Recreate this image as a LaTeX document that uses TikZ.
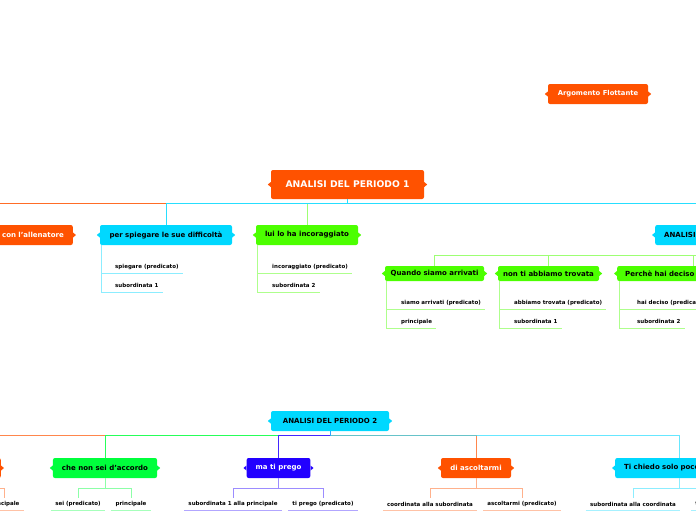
\documentclass[tikz,border=0pt]{standalone}
\usepackage{fontspec}
\setmainfont{DejaVu Sans}
\usetikzlibrary{positioning}
\definecolor{mmArancio}{HTML}{FF5200}
\definecolor{mmCiano}{HTML}{00D8FF}
\definecolor{mmLime}{HTML}{4CFF00}
\definecolor{mmVerde}{HTML}{00FF3C}
\definecolor{mmBlu}{HTML}{2200FF}

\begin{document}
\begin{tikzpicture}[
        x=1pt, y=-1pt,
        nodo/.style={rectangle, rounded corners=2pt, inner xsep=9pt, inner ysep=0pt, minimum height=20pt, font=\bfseries\fontsize{7}{8.5}\selectfont},
        nodoArancio/.style={nodo, fill=mmArancio, text=white},
        nodoCiano/.style={nodo, fill=mmCiano, text=black},
        nodoLime/.style={nodo, fill=mmLime, text=black},
        nodoVerde/.style={nodo, fill=mmVerde, text=black},
        nodoBlu/.style={nodo, fill=mmBlu, text=white},
        nodoPiccolo/.style={nodoLime, inner xsep=5pt, minimum height=15pt},
        foglia/.style={inner xsep=4pt, inner ysep=0pt, minimum height=12pt, font=\bfseries\fontsize{5.5}{6.5}\selectfont},
        fogliaSx/.style={foglia, anchor=south west},
        linea/.style={line width=0.9pt},
        lineaArancio/.style={linea, draw=mmArancio!85},
        lineaCiano/.style={linea, draw=mmCiano!85},
        lineaLime/.style={linea, draw=mmLime!55},
        lineaVerde/.style={linea, draw=mmVerde!85},
        lineaBlu/.style={linea, draw=mmBlu!85},
        ramo/.style={line width=0.8pt}
    ]
        % Sfondo
        \fill[white] (0,0) rectangle (696,520);
        \useasboundingbox (0,0) rectangle (696,520);

        % Periodo 1
        \node[nodoArancio, minimum width=153pt, minimum height=29pt, font=\bfseries\fontsize{9.2}{11}\selectfont] (radice1) at (347.5,184.5) {ANALISI DEL PERIODO 1};
        \node[nodoArancio, minimum width=100pt, font=\bfseries\fontsize{6.8}{8}\selectfont] (flottante) at (598,94) {Argomento Flottante};

        \node[nodoArancio, anchor=east, text width=150pt, align=right] (allenatore) at (73,235) {con l'allenatore};
        \node[nodoCiano, minimum width=132pt] (spiegare) at (166,235) {per spiegare le sue difficoltà};
        \node[nodoLime, minimum width=102pt] (incoraggiato) at (307,235) {lui lo ha incoraggiato};
        \node[nodoCiano, anchor=west, text width=100pt, align=left] (analisiA) at (655,235) {ANALISI};

        \node[nodoPiccolo, minimum width=99pt] (arrivati) at (434.5,273.5) {Quando siamo arrivati};
        \node[nodoPiccolo, minimum width=101pt] (trovata) at (548.5,273.5) {non ti abbiamo trovata};
        \node[nodoPiccolo, anchor=west, inner xsep=8pt, text width=136pt, align=left] (deciso) at (617,273.5) {Perchè hai deciso di};

        % foglie periodo 1
        \node[fogliaSx] (spiegarePred) at (111,273) {spiegare (predicato)};
        \node[fogliaSx] (spiegareSub) at (111,292) {subordinata 1};
        \node[fogliaSx] (incoraggiatoPred) at (268,273) {incoraggiato (predicato)};
        \node[fogliaSx] (incoraggiatoSub) at (268,292) {subordinata 2};
        \node[fogliaSx] (arrivatiPred) at (397,309) {siamo arrivati (predicato)};
        \node[fogliaSx] (arrivatiSub) at (397,328) {principale};
        \node[fogliaSx] (trovataPred) at (510,309) {abbiamo trovata (predicato)};
        \node[fogliaSx] (trovataSub) at (510,328) {subordinata 1};
        \node[fogliaSx] (decisoPred) at (633,309) {hai deciso (predicato)};
        \node[fogliaSx] (decisoSub) at (633,328) {subordinata 2};

        \draw[lineaArancio] (radice1.south) -- ++(0,4) -| (allenatore.north);
        \draw[lineaLime] (radice1.south) -- ++(0,4) -| (incoraggiato.north);
        \draw[lineaCiano] (radice1.south) -- ++(0,4) -| (spiegare.north);
        \draw[lineaCiano] (radice1.south) -- ++(0,4) -| (analisiA.north);

        \draw[lineaLime] (analisiA.south) -- ++(0,10) -| (arrivati.north);
        \draw[lineaLime] (analisiA.south) -- ++(0,10) -| (trovata.north);
        \draw[lineaLime] (analisiA.south) -- ++(0,10) -| (deciso.north);

        \foreach \p/\f/\c in {spiegare/spiegarePred/mmCiano, spiegare/spiegareSub/mmCiano,
                incoraggiato/incoraggiatoPred/mmLime, incoraggiato/incoraggiatoSub/mmLime,
                arrivati/arrivatiPred/mmLime, arrivati/arrivatiSub/mmLime,
                trovata/trovataPred/mmLime, trovata/trovataSub/mmLime,
                deciso/decisoPred/mmLime, deciso/decisoSub/mmLime}
            \draw[ramo, draw=\c!45] ([xshift=2pt]\p.south west) |- (\f.south east);

        % Periodo 2
        \node[nodoCiano, minimum width=118pt] (radice2) at (330,421) {ANALISI DEL PERIODO 2};
        \node[nodoArancio, anchor=east, minimum width=60pt] (sinistro) at (1,468) {};
        \node[nodoVerde, minimum width=104pt] (accordo) at (105,468) {che non sei d'accordo};
        \node[nodoBlu, minimum width=63pt] (prego) at (278.5,468) {ma ti prego};
        \node[nodoArancio, minimum width=70pt] (ascoltarmi) at (476,468) {di ascoltarmi};
        \node[nodoCiano, anchor=west, text width=110pt, align=left] (chiedo) at (615,468) {Ti chiedo solo poco};

        % foglie periodo 2
        \node[foglia] (sinistroSub) at (4,504) {principale};
        \node[foglia] (accordoPred) at (78,504) {sei (predicato)};
        \node[foglia] (accordoSub) at (131,504) {principale};
        \node[foglia] (pregoSub) at (233,504) {subordinata 1 alla principale};
        \node[foglia] (pregoPred) at (323,504) {ti prego (predicato)};
        \node[foglia] (ascoltarmiSub) at (430,504) {coordinata alla subordinata};
        \node[foglia] (ascoltarmiPred) at (522,504) {ascoltarmi (predicato)};
        \node[foglia] (chiedoSub) at (633,504) {subordinata alla coordinata};
        \node[foglia] (chiedoPred) at (727,504) {ti chiedo (predicato)};

        \draw[lineaArancio, draw=mmArancio!70] (radice2.south) -- ++(0,4) -| (sinistro.north);
        \draw[lineaArancio, draw=mmArancio!70] (radice2.south) -- ++(0,4) -| (ascoltarmi.north);
        \draw[lineaVerde] (radice2.south) -- ++(0,4) -| (accordo.north);
        \draw[lineaBlu] (radice2.south) -- ++(0,4) -| (prego.north);
        \draw[lineaCiano, draw opacity=0.7] (radice2.south) -- ++(0,4) -| (chiedo.north);

        \foreach \p/\f/\c in {sinistro/sinistroSub/mmArancio,
                accordo/accordoPred/mmVerde, accordo/accordoSub/mmVerde,
                prego/pregoSub/mmBlu, prego/pregoPred/mmBlu,
                ascoltarmi/ascoltarmiSub/mmArancio, ascoltarmi/ascoltarmiPred/mmArancio,
                chiedo/chiedoSub/mmCiano, chiedo/chiedoPred/mmCiano} {
            \draw[ramo, draw=\c!45] (\p.south) -- ++(0,10) -| (\f.north);
            \draw[ramo, draw=\c!35] (\f.south west) -- (\f.south east);
        }

        % Linguette ai lati dei nodi
        \foreach \n/\c in {radice1/mmArancio, flottante/mmArancio, allenatore/mmArancio,
                spiegare/mmCiano, incoraggiato/mmLime, analisiA/mmCiano,
                arrivati/mmLime, trovata/mmLime, deciso/mmLime,
                radice2/mmCiano, sinistro/mmArancio, accordo/mmVerde, prego/mmBlu,
                ascoltarmi/mmArancio, chiedo/mmCiano} {
            \fill[\c] ([yshift=2.5pt]\n.west) -- ++(-3,2.5) -- ++(3,2.5) -- cycle;
            \fill[\c] ([yshift=2.5pt]\n.east) -- ++(3,2.5) -- ++(-3,2.5) -- cycle;
        }
    \end{tikzpicture}
\end{document}
